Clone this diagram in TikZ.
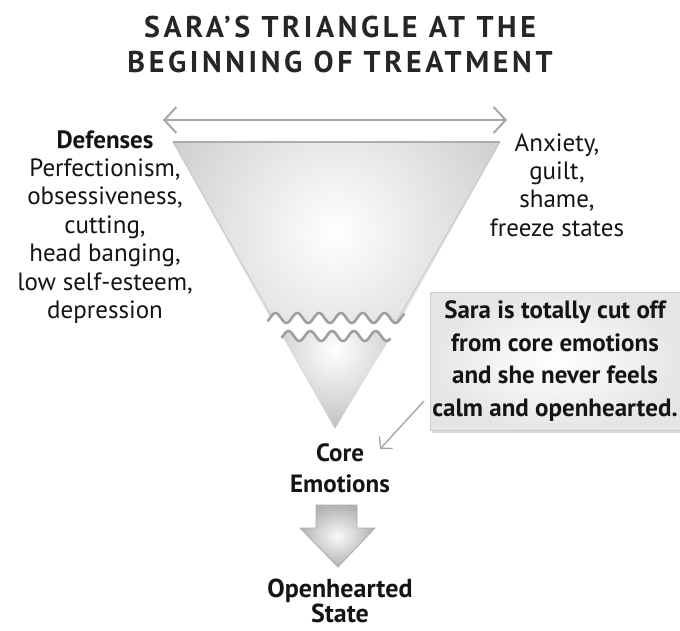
\documentclass[tikz,border=0pt]{standalone}
\usepackage{fontspec}
\setmainfont{PT Sans}
\newfontfamily\titlefont[LetterSpace=12]{PT Sans}
\usetikzlibrary{arrows.meta,calc}
\begin{document}
\begin{tikzpicture}[x=1pt,y=-1pt,
  lbl/.style={align=center, inner sep=0pt, text=black!92},
  sidetext/.style={lbl, font=\fontsize{25}{28.4}\selectfont},
  boldtext/.style={lbl, font=\fontsize{25}{31}\selectfont\bfseries},
  wavy/.style={draw=gray!75, line width=2.6pt, line join=round, line cap=round},
  span/.style={draw=gray!70, line width=2.6pt, {Straight Barb[length=12pt,width=26pt,line width=2pt]}-{Straight Barb[length=12pt,width=26pt,line width=2pt]}},
  pointer/.style={draw=gray!70, line width=1.4pt, -{Straight Barb[length=8pt,width=18pt,line width=1.4pt]}}]
\useasboundingbox (0,0) rectangle (680,630);

% title
\node[lbl, font=\fontsize{30}{35}\selectfont\titlefont\bfseries, text=black!85] (title) at (340,44)
  {SARA’S TRIANGLE AT THE\\BEGINNING OF TREATMENT};

% double arrow spanning the top of the triangle
\coordinate (spanL) at (163,120);
\coordinate (spanR) at (507,120);
\draw[span] (spanL) -- (spanR);

% upper part of the triangle, cut off by a wavy edge
\begin{scope}
  \clip (173,142) -- (500,142) -- (402,318)
    -- plot[domain=402:270,samples=90] (\x,{318-5*sin((\x-270)*16.5)}) -- cycle;
  \shade[inner color=white, outer color=gray!42] (335,232) circle (205pt);
\end{scope}
\draw[gray!45, line width=0.8pt] (173,142) -- (335,428);
\draw[gray!45, line width=0.8pt] (500,142) -- (335,428);
\draw[gray!65, line width=2pt] (173,142) -- (500,142);

% lower part of the triangle
\begin{scope}
  \clip plot[domain=283:389,samples=70] (\x,{336-5*sin((\x-283)*16.5)}) -- (335,428) -- cycle;
  \shade[inner color=white, outer color=gray!52] (335,350) circle (85pt);
\end{scope}

% white gap with the two wavy edges
\fill[white] plot[domain=262:408,samples=100] (\x,{318-5*sin((\x-270)*16.5)})
  -- plot[domain=395:276,samples=80] (\x,{336-5*sin((\x-283)*16.5)}) -- cycle;
\draw[wavy] plot[domain=268:404,samples=110] (\x,{318-5*sin((\x-270)*16.5)});
\draw[wavy] plot[domain=282:390,samples=90] (\x,{336-5*sin((\x-283)*16.5)});

% side labels
\node[sidetext] (defenses) at (105,227)
  {\textbf{Defenses}\\Perfectionism,\\obsessiveness,\\cutting,\\head banging,\\low self-esteem,\\depression};
\node[sidetext] (anxiety) at (557,185)
  {Anxiety,\\guilt,\\shame,\\freeze states};

% callout box
\fill[gray!30] (432,296) rectangle (680,433);
\node[shade, inner color=white, outer color=gray!20, draw=gray!40, line width=0.6pt,
      minimum width=250pt, minimum height=138pt, inner sep=0pt,
      align=center, font=\fontsize{25}{32.8}\selectfont\bfseries, text=black!92] (note) at (555,361)
  {Sara is totally cut off\\from core emotions\\and she never feels\\calm and openhearted.};

% core emotions and pointer from the callout
\node[boldtext] (core) at (340,468) {Core\\Emotions};
\coordinate (ptrA) at (424,401);
\coordinate (ptrB) at (380,449);
\draw[pointer] (ptrA) -- (ptrB);

% block arrow down to the openhearted state
\shade[inner color=gray!5, outer color=gray!60, draw=gray!65, line width=0.8pt]
  (316,505) -- (357,505) -- (357,528) -- (375,528) -- (338,567) -- (300,528) -- (316,528) -- cycle;
\node[boldtext, font=\fontsize{26}{25.5}\selectfont\bfseries] (open) at (340,601) {Openhearted\\State};
\end{tikzpicture}
\end{document}
